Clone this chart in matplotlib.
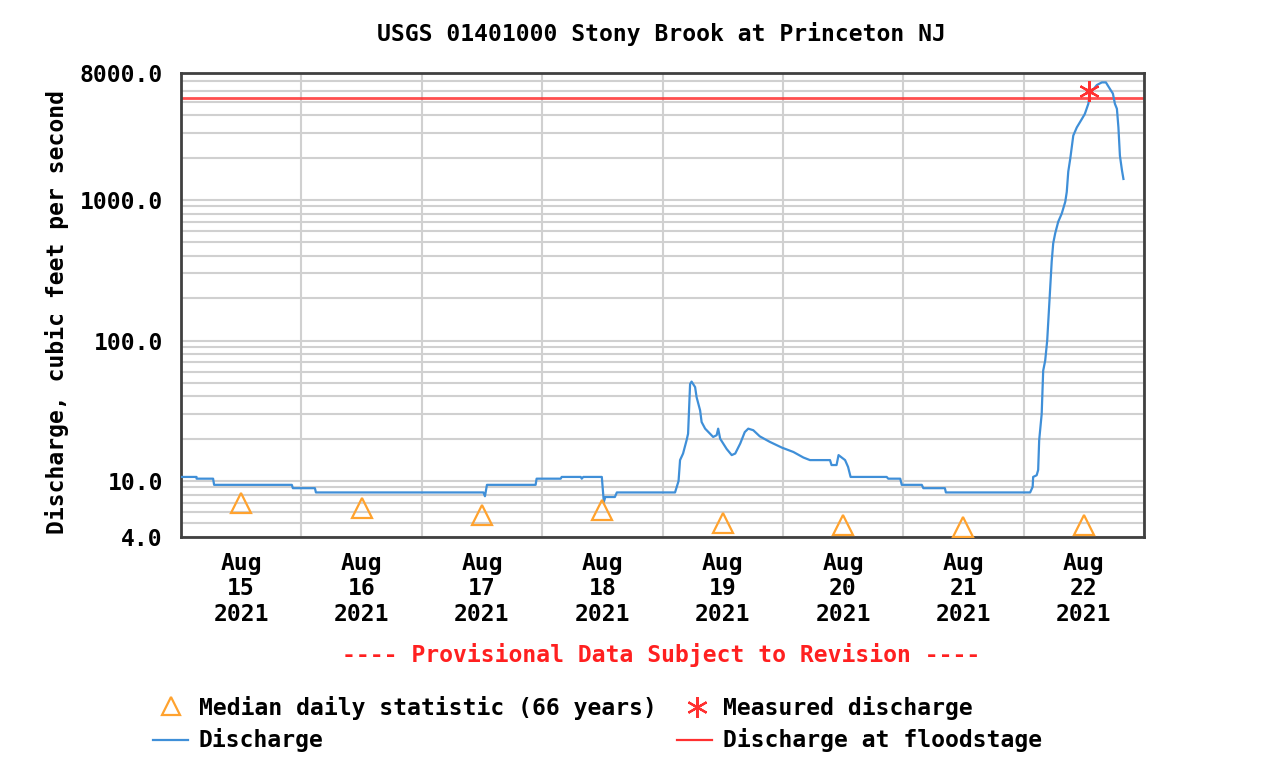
#!/usr/bin/env python3
"""
USGS 01401000 Stony Brook at Princeton NJ - discharge hydrograph, Aug 15-22 2021
"""

import matplotlib
matplotlib.use('Agg')
import matplotlib.pyplot as plt
import matplotlib.dates as mdates
from matplotlib.lines import Line2D
from matplotlib.ticker import FixedLocator, LogLocator, NullFormatter
import pandas as pd

# Data (hours after 2021-08-15 00:00, cfs)
hours = [0, 3.1, 3.1, 6.4, 6.6, 22.1, 22.3, 26.7, 26.9, 60.3, 60.6, 61.0,
         70.7, 70.9, 75.7, 75.9, 79.7, 79.9, 80.2, 83.9, 84.3, 84.6, 86.5, 86.9,
         98.5, 99.2, 99.5, 100.1, 100.8, 101.1, 101.5, 101.8, 102.5, 102.8,
         103.5, 103.8, 104.5, 106.1, 106.8, 107.1, 107.5, 108.8, 109.8, 110.5,
         111.5, 112.4, 113.1, 114.1, 115.4, 117.4, 119.8, 122.1, 124.1, 125.4,
         129.4, 129.7, 130.7, 131.1, 132.4, 133.0, 133.5, 140.7, 141.0, 143.4,
         143.7, 147.7, 148.0, 152.3, 152.5, 169.3, 169.8, 169.9, 170.6, 170.9,
         171.1, 171.6, 171.9, 172.3, 172.7, 173.6, 173.9, 174.3, 174.9, 175.6,
         176.3, 176.6, 176.9, 177.3, 177.9, 178.6, 179.6, 180.2, 180.9, 181.2,
         182.6, 183.6, 184.4, 185.2, 185.8, 186.2, 186.6, 186.9, 187.2, 187.6,
         187.9]
discharge = [10.7, 10.7, 10.4, 10.4, 9.4, 9.4, 8.9, 8.9, 8.3, 8.3, 7.8, 9.4,
             9.4, 10.4, 10.4, 10.7, 10.7, 10.4, 10.7, 10.7, 7.1, 7.7, 7.7, 8.3,
             8.3, 10, 14.1, 15.7, 19.5, 21.7, 49, 51, 46.6, 39.5,
             31.8, 26.3, 23.6, 20.6, 21.2, 23.6, 20, 16.9, 15.3, 15.7,
             18.5, 22.3, 23.6, 23, 20.8, 19, 17.3, 16.1, 14.7, 14.1,
             14.1, 13, 13, 15.3, 14.1, 12.6, 10.7, 10.7, 10.4, 10.4,
             9.4, 9.4, 8.9, 8.9, 8.3, 8.3, 9.1, 10.7, 11, 12,
             19.5, 30, 61, 72, 100, 366, 492, 580, 700, 800,
             970, 1140, 1590, 1970, 2870, 3280, 3760, 4090, 4830, 5710,
             6570, 6860, 6860, 6170, 5710, 4830, 4450, 3280, 2060, 1630,
             1410]

median_days = ['2021-08-15', '2021-08-16', '2021-08-17', '2021-08-18',
               '2021-08-19', '2021-08-20', '2021-08-21', '2021-08-22']
median_cfs = [7.0, 6.4, 5.78, 6.2, 5.06, 4.9, 4.75, 4.9]

measured_time = '2021-08-22 13:05'
measured_cfs = 5970

floodstage_cfs = 5300

y_ticks = [4, 10, 100, 1000, 8000]

start = pd.Timestamp('2021-08-15')
t = start + pd.to_timedelta(hours, unit='h')
t_med = pd.to_datetime(median_days) + pd.Timedelta(hours=12)

BLUE = '#3f8fd8'
ORANGE = '#ffa22e'
RED = '#ff3030'
FONT = dict(family='DejaVu Sans Mono', weight='bold', size=16.6)

W, H = 1266, 776
fig = plt.figure(figsize=(W / 100, H / 100), dpi=100)
ax = fig.add_axes([181 / W, 1 - 537 / H, (1144 - 181) / W, (537 - 73) / H])

ax.plot(t, discharge, color=BLUE, lw=1.6, zorder=3)
ax.axhline(floodstage_cfs, color=RED, lw=2, alpha=0.85, zorder=2)
ax.plot(t_med, median_cfs, ls='none', marker='^', ms=14.5, mfc='none',
        mec=ORANGE, mew=1.6, zorder=4)
ax.plot(pd.Timestamp(measured_time), measured_cfs, ls='none', marker=(6, 2, 0),
        ms=15, mec=RED, mew=1.6, zorder=5)
ax.plot(pd.Timestamp(measured_time), measured_cfs, ls='none', marker='o',
        ms=4, color=RED, zorder=5)

ax.set_yscale('log')
ax.set_ylim(4, 8000)
ax.set_xlim(start, start + pd.Timedelta(days=8))

ax.yaxis.set_major_locator(FixedLocator(y_ticks))
ax.set_yticklabels([f'{v:.1f}' for v in y_ticks])
ax.yaxis.set_minor_locator(LogLocator(base=10, subs=range(2, 10)))
ax.yaxis.set_minor_formatter(NullFormatter())

ax.xaxis.set_major_locator(mdates.DayLocator())
ax.xaxis.set_major_formatter(plt.NullFormatter())
ax.xaxis.set_minor_locator(mdates.HourLocator(byhour=12))
ax.xaxis.set_minor_formatter(mdates.DateFormatter('%b\n%d\n%Y'))

ax.grid(True, which='major', axis='x', color='#d0d0d0', lw=1.5)
ax.grid(True, which='both', axis='y', color='#d0d0d0', lw=1.5)
ax.set_axisbelow(True)

ax.tick_params(which='both', length=0)
ax.tick_params(axis='y', pad=13)
ax.tick_params(axis='x', which='minor', pad=11)
for lab in ax.get_yticklabels() + ax.get_xticklabels(minor=True):
    lab.set_fontproperties(matplotlib.font_manager.FontProperties(**FONT))
    lab.set_linespacing(1.12)

for s in ax.spines.values():
    s.set_color('#404040')
    s.set_linewidth(2)

fig.text(661 / W, 1 - 34 / H, 'USGS 01401000 Stony Brook at Princeton NJ',
         ha='center', va='center', **FONT)
fig.text(57 / W, 1 - 312 / H, 'Discharge, cubic feet per second',
         ha='center', va='center', rotation=90, **FONT)
fig.text(661 / W, 1 - 655 / H, '---- Provisional Data Subject to Revision ----',
         ha='center', va='center', color='#ff2020', **FONT)

# legend (drawn by hand to match the USGS layout)
def fx(px):
    return px / W

def fy(py):
    return 1 - py / H

fig.add_artist(Line2D([fx(171)], [fy(706)], marker='^', ms=13, mfc='none',
                      mec=ORANGE, mew=1.6, ls='none'))
fig.text(fx(199), fy(708), 'Median daily statistic (66 years)', va='center', **FONT)
fig.add_artist(Line2D([fx(697)], [fy(707)], marker=(6, 2, 0), ms=15,
                      mec=RED, mew=1.6, ls='none'))
fig.text(fx(723), fy(708), 'Measured discharge', va='center', **FONT)
fig.add_artist(Line2D([fx(153), fx(188)], [fy(740), fy(740)], color=BLUE, lw=1.6))
fig.text(fx(199), fy(740), 'Discharge', va='center', **FONT)
fig.add_artist(Line2D([fx(677), fx(712)], [fy(740), fy(740)], color=RED, lw=1.6))
fig.text(fx(723), fy(740), 'Discharge at floodstage', va='center', **FONT)

fig.savefig('out.png', dpi=100, facecolor='white')
